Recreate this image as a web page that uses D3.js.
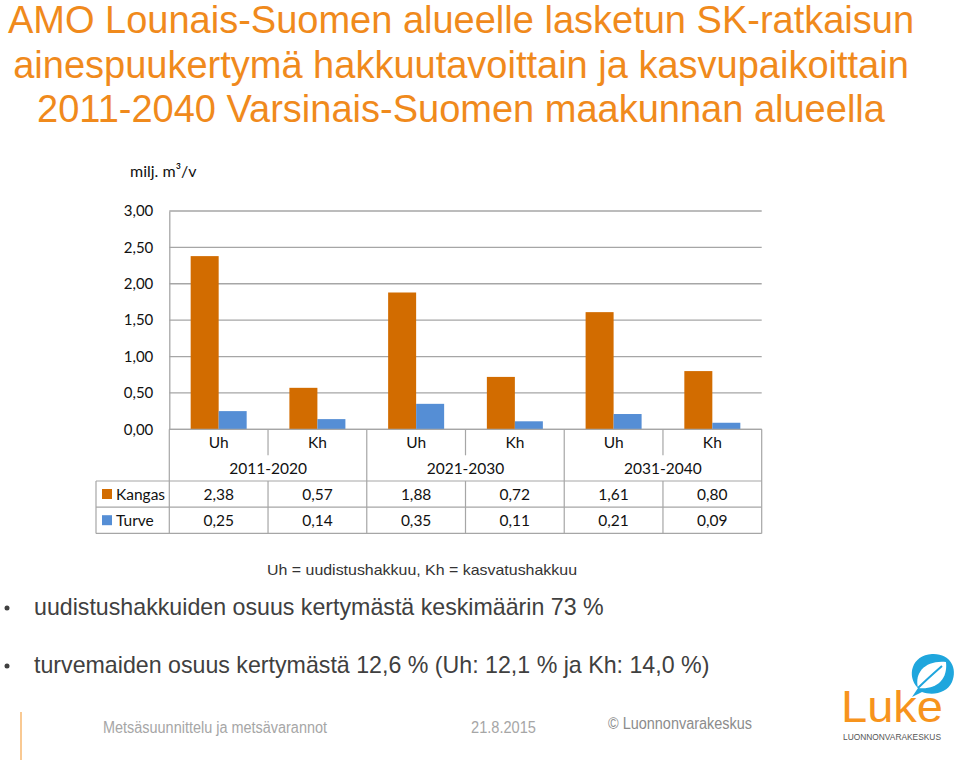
<!DOCTYPE html>
<html><head><meta charset="utf-8">
<script src="https://cdn.jsdelivr.net/npm/d3@7"></script>
<style>body{margin:0;background:#fff}svg{display:block}</style>
</head><body>
<svg id="c" width="960" height="760"></svg>
<script>
// ---- data ----
const titleLines = ["AMO Lounais-Suomen alueelle lasketun SK-ratkaisun",
  "ainespuukertymä hakkuutavoittain ja kasvupaikoittain",
  "2011-2040 Varsinais-Suomen maakunnan alueella"];
const cutTypes = ["Uh","Kh","Uh","Kh","Uh","Kh"];
const periods = ["2011-2020","2021-2030","2031-2040"];
const seriesNames = ["Kangas","Turve"];
const kangas = [2.38,0.57,1.88,0.72,1.61,0.80];
const turve = [0.25,0.14,0.35,0.11,0.21,0.09];
const yTicks = [0,0.5,1,1.5,2,2.5,3];
const unitLabel = "milj. m³/v";
const noteText = "Uh = uudistushakkuu, Kh = kasvatushakkuu";
const bullets = ["uudistushakkuiden osuus kertymästä keskimäärin 73 %",
  "turvemaiden osuus kertymästä 12,6 % (Uh: 12,1 % ja Kh: 14,0 %)"];
const footer = ["Metsäsuunnittelu ja metsävarannot","21.8.2015","© Luonnonvarakeskus"];

const colors = {Kangas:"#D26C00", Turve:"#558ED5"};
const values = {Kangas:kangas, Turve:turve};
const svg = d3.select("#c");
const chartFont = "Lato, 'Open Sans', sans-serif";
const sans = "'Liberation Sans', Arial, sans-serif";
const loc = d3.formatLocale({decimal:",",thousands:" ",grouping:[3],currency:["","€"]});
const fmt = loc.format(".2f");

// title
svg.append("g").selectAll("text").data(titleLines).join("text")
  .attr("x",461).attr("y",(d,i)=>33+i*44.5)
  .attr("text-anchor","middle").attr("fill","#F08A1C")
  .attr("font-family",sans).attr("font-size",38)
  .text(d=>d);

// scales
const left=169.3, right=761.7, y0=429.3, y3=211;
const idx = d3.range(cutTypes.length);
const x = d3.scaleBand().domain(idx).range([left,right]).padding(0);
const xs = d3.scaleBand().domain(seriesNames).range([0,x.bandwidth()]).paddingInner(0).paddingOuter(0.763);
const y = d3.scaleLinear().domain([0,3]).range([y0,y3]);

// gridlines
svg.append("g").selectAll("line").data(yTicks).join("line")
  .attr("x1",left).attr("x2",right).attr("y1",d=>y(d)).attr("y2",d=>y(d))
  .attr("stroke","#A6A6A6").attr("stroke-width",1.3);

// y axis
const yAxis = svg.append("g").attr("transform",`translate(${left},0)`)
  .call(d3.axisLeft(y).tickValues(yTicks).tickFormat(fmt).tickSize(0).tickPadding(16));
yAxis.select(".domain").attr("stroke","#A6A6A6").attr("stroke-width",1.3);
yAxis.selectAll("text").attr("font-family",chartFont).attr("font-size",15).attr("fill","#111");

svg.append("text").attr("x",130).attr("y",177).attr("font-family",chartFont)
  .attr("font-size",16).attr("fill","#111").text(unitLabel);

// bars
seriesNames.forEach(s=>{
  svg.append("g").selectAll("rect").data(idx).join("rect")
    .attr("x",i=>x(i)+xs(s)).attr("width",xs.bandwidth())
    .attr("y",i=>y(values[s][i])).attr("height",i=>y(0)-y(values[s][i]))
    .attr("fill",colors[s]);
});

// data table
const rowTop = [y0, 455.3, 481, 507.2, 533.4];
const tLeft = 96;
const tg = svg.append("g").attr("stroke","#A6A6A6").attr("stroke-width",1.2);
tg.append("line").attr("x1",left).attr("x2",right).attr("y1",y0).attr("y2",y0);
[rowTop[2],rowTop[3],rowTop[4]].forEach(v=>tg.append("line").attr("x1",tLeft).attr("x2",right).attr("y1",v).attr("y2",v));
tg.append("line").attr("x1",tLeft).attr("x2",tLeft).attr("y1",rowTop[2]).attr("y2",rowTop[4]);
[0,2,4,6].forEach(i=>{
  const xv = i<6 ? x(i) : right;
  tg.append("line").attr("x1",xv).attr("x2",xv).attr("y1",y0).attr("y2",rowTop[4]);
});
[1,3,5].forEach(i=>{
  tg.append("line").attr("x1",x(i)).attr("x2",x(i)).attr("y1",y0).attr("y2",rowTop[1]);
  tg.append("line").attr("x1",x(i)).attr("x2",x(i)).attr("y1",rowTop[2]).attr("y2",rowTop[4]);
});
const txt = svg.append("g").attr("font-family",chartFont).attr("font-size",15.5).attr("fill","#111");
txt.selectAll(".ct").data(idx).join("text").attr("class","ct")
  .attr("x",i=>x(i)+x.bandwidth()/2).attr("y",447.5).attr("text-anchor","middle").text(i=>cutTypes[i]);
txt.selectAll(".pt").data(periods).join("text").attr("class","pt")
  .attr("x",(d,j)=>x(2*j)+x.bandwidth()).attr("y",473.5).attr("text-anchor","middle").text(d=>d);
seriesNames.forEach((s,r)=>{
  const yy = 499.5 + r*26.2;
  txt.selectAll(".v"+s).data(idx).join("text").attr("class","v"+s)
    .attr("x",i=>x(i)+x.bandwidth()/2).attr("y",yy).attr("text-anchor","middle").text(i=>fmt(values[s][i]));
  svg.append("rect").attr("x",102).attr("y",yy-10.5).attr("width",10).attr("height",10).attr("fill",colors[s]);
  txt.append("text").attr("x",116).attr("y",yy).text(s);
});

// notes
svg.append("text").attr("x",267).attr("y",575)
  .attr("font-family",sans).attr("font-size",15).attr("fill","#333")
  .attr("textLength",310).attr("lengthAdjust","spacingAndGlyphs").text(noteText);
bullets.forEach((b,i)=>{
  const by = 615 + i*58;
  svg.append("circle").attr("cx",7).attr("cy",by-7).attr("r",2.5).attr("fill","#404040");
  svg.append("text").attr("x",34).attr("y",by).attr("font-family",sans)
    .attr("font-size",23.2).attr("fill","#404040").text(b);
});

// footer
svg.append("line").attr("x1",21).attr("x2",21).attr("y1",712).attr("y2",760).attr("stroke","#F5A54A").attr("stroke-width",1.2);
const ff = "'Liberation Sans Narrow', 'Arial Narrow', 'Liberation Sans', sans-serif";
svg.append("text").attr("x",103).attr("y",733).attr("font-family",ff).attr("font-size",16).attr("fill","#A6A6A6")
  .attr("textLength",224).attr("lengthAdjust","spacingAndGlyphs").text(footer[0]);
svg.append("text").attr("x",471).attr("y",733).attr("font-family",ff).attr("font-size",16).attr("fill","#A6A6A6")
  .attr("textLength",65).attr("lengthAdjust","spacingAndGlyphs").text(footer[1]);
svg.append("text").attr("x",608).attr("y",729).attr("font-family",ff).attr("font-size",16).attr("fill","#8C8C8C")
  .attr("textLength",144).attr("lengthAdjust","spacingAndGlyphs").text(footer[2]);

// logo
const lg = svg.append("g");
lg.append("path").attr("d","M912,697 L918,688 C906,676 912,655 932,654 C950,653 958,668 952,682 C947,693 933,696 922,692 Z")
  .attr("fill","#1FA6DD");
lg.append("path").attr("d","M918,688 C914,672 926,660 946,662 C948,680 936,690 918,688 Z").attr("fill","#fff");
lg.append("path").attr("d","M918,688 C926,680 934,673 942,666").attr("stroke","#1FA6DD").attr("stroke-width",2).attr("fill","none");
lg.append("text").attr("x",841).attr("y",722).attr("font-family",sans)
  .attr("font-size",44).attr("fill","#F7941D").attr("textLength",102).attr("lengthAdjust","spacingAndGlyphs").text("Luke");
lg.append("text").attr("x",843).attr("y",740).attr("font-family",sans)
  .attr("font-size",8.5).attr("fill","#555").attr("textLength",98).attr("lengthAdjust","spacingAndGlyphs").text("LUONNONVARAKESKUS");
</script>
</body></html>
